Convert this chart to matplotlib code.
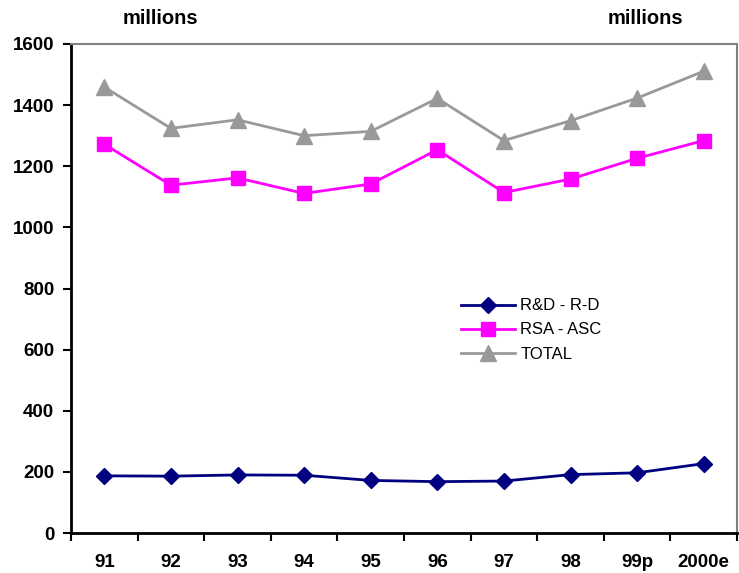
import matplotlib
matplotlib.use("Agg")
import matplotlib.pyplot as plt
import numpy as np

years = ["91", "92", "93", "94", "95", "96", "97", "98", "99p", "2000e"]
rd = [187, 186, 190, 189, 172, 168, 170, 191, 197, 227]
rsa = [1272, 1138, 1162, 1111, 1142, 1254, 1114, 1158, 1226, 1284]
total = [1459, 1324, 1352, 1300, 1314, 1422, 1284, 1349, 1423, 1511]
yticks = [0, 200, 400, 600, 800, 1000, 1200, 1400, 1600]

plt.rcParams['font.family'] = ['Liberation Sans', 'DejaVu Sans']

fig = plt.figure(figsize=(7.39, 5.73), dpi=100)
ax = fig.add_axes([71/739, 1-533/573, (737-71)/739, (533-44)/573])

x = np.arange(len(years))
ax.plot(x, rd, color='#000080', marker='D', markersize=8, linewidth=2, label='R&D - R-D')
ax.plot(x, rsa, color='#FF00FF', marker='s', markersize=10, linewidth=2, label='RSA - ASC')
ax.plot(x, total, color='#999999', marker='^', markersize=11, linewidth=2, label='TOTAL')

ax.set_xlim(-0.5, len(years) - 0.5)
ax.set_ylim(0, 1600)
ax.set_yticks(yticks)
ax.set_yticklabels([str(v) for v in yticks], fontsize=13.5, fontweight='bold')
ax.set_xticks(x)
ax.set_xticklabels(years, fontsize=13.5, fontweight='bold')
ax.tick_params(axis='x', which='major', length=0, pad=15)
ax.set_xticks(np.arange(-0.5, len(years), 1.0), minor=True)
ax.tick_params(axis='x', which='minor', length=6, width=1.5, direction='out')
ax.tick_params(axis='y', length=6, width=1.5, direction='out', pad=6)

ax.spines['left'].set_linewidth(2)
ax.spines['bottom'].set_linewidth(2)
ax.spines['top'].set_color('#808080')
ax.spines['right'].set_color('#808080')
ax.spines['top'].set_linewidth(1.5)
ax.spines['right'].set_linewidth(1.5)

fig.text(160/739, 1-18/573, 'millions', fontsize=14.5, fontweight='bold', ha='center', va='center')
fig.text(645/739, 1-18/573, 'millions', fontsize=14.5, fontweight='bold', ha='center', va='center')

ax.legend(loc='upper left', bbox_to_anchor=((453-71)/666, 1-(290-44)/489), frameon=False,
          fontsize=12, handlelength=3.2, handletextpad=0.35, labelspacing=0.55, borderpad=0)

fig.savefig('out.png', dpi=100)
